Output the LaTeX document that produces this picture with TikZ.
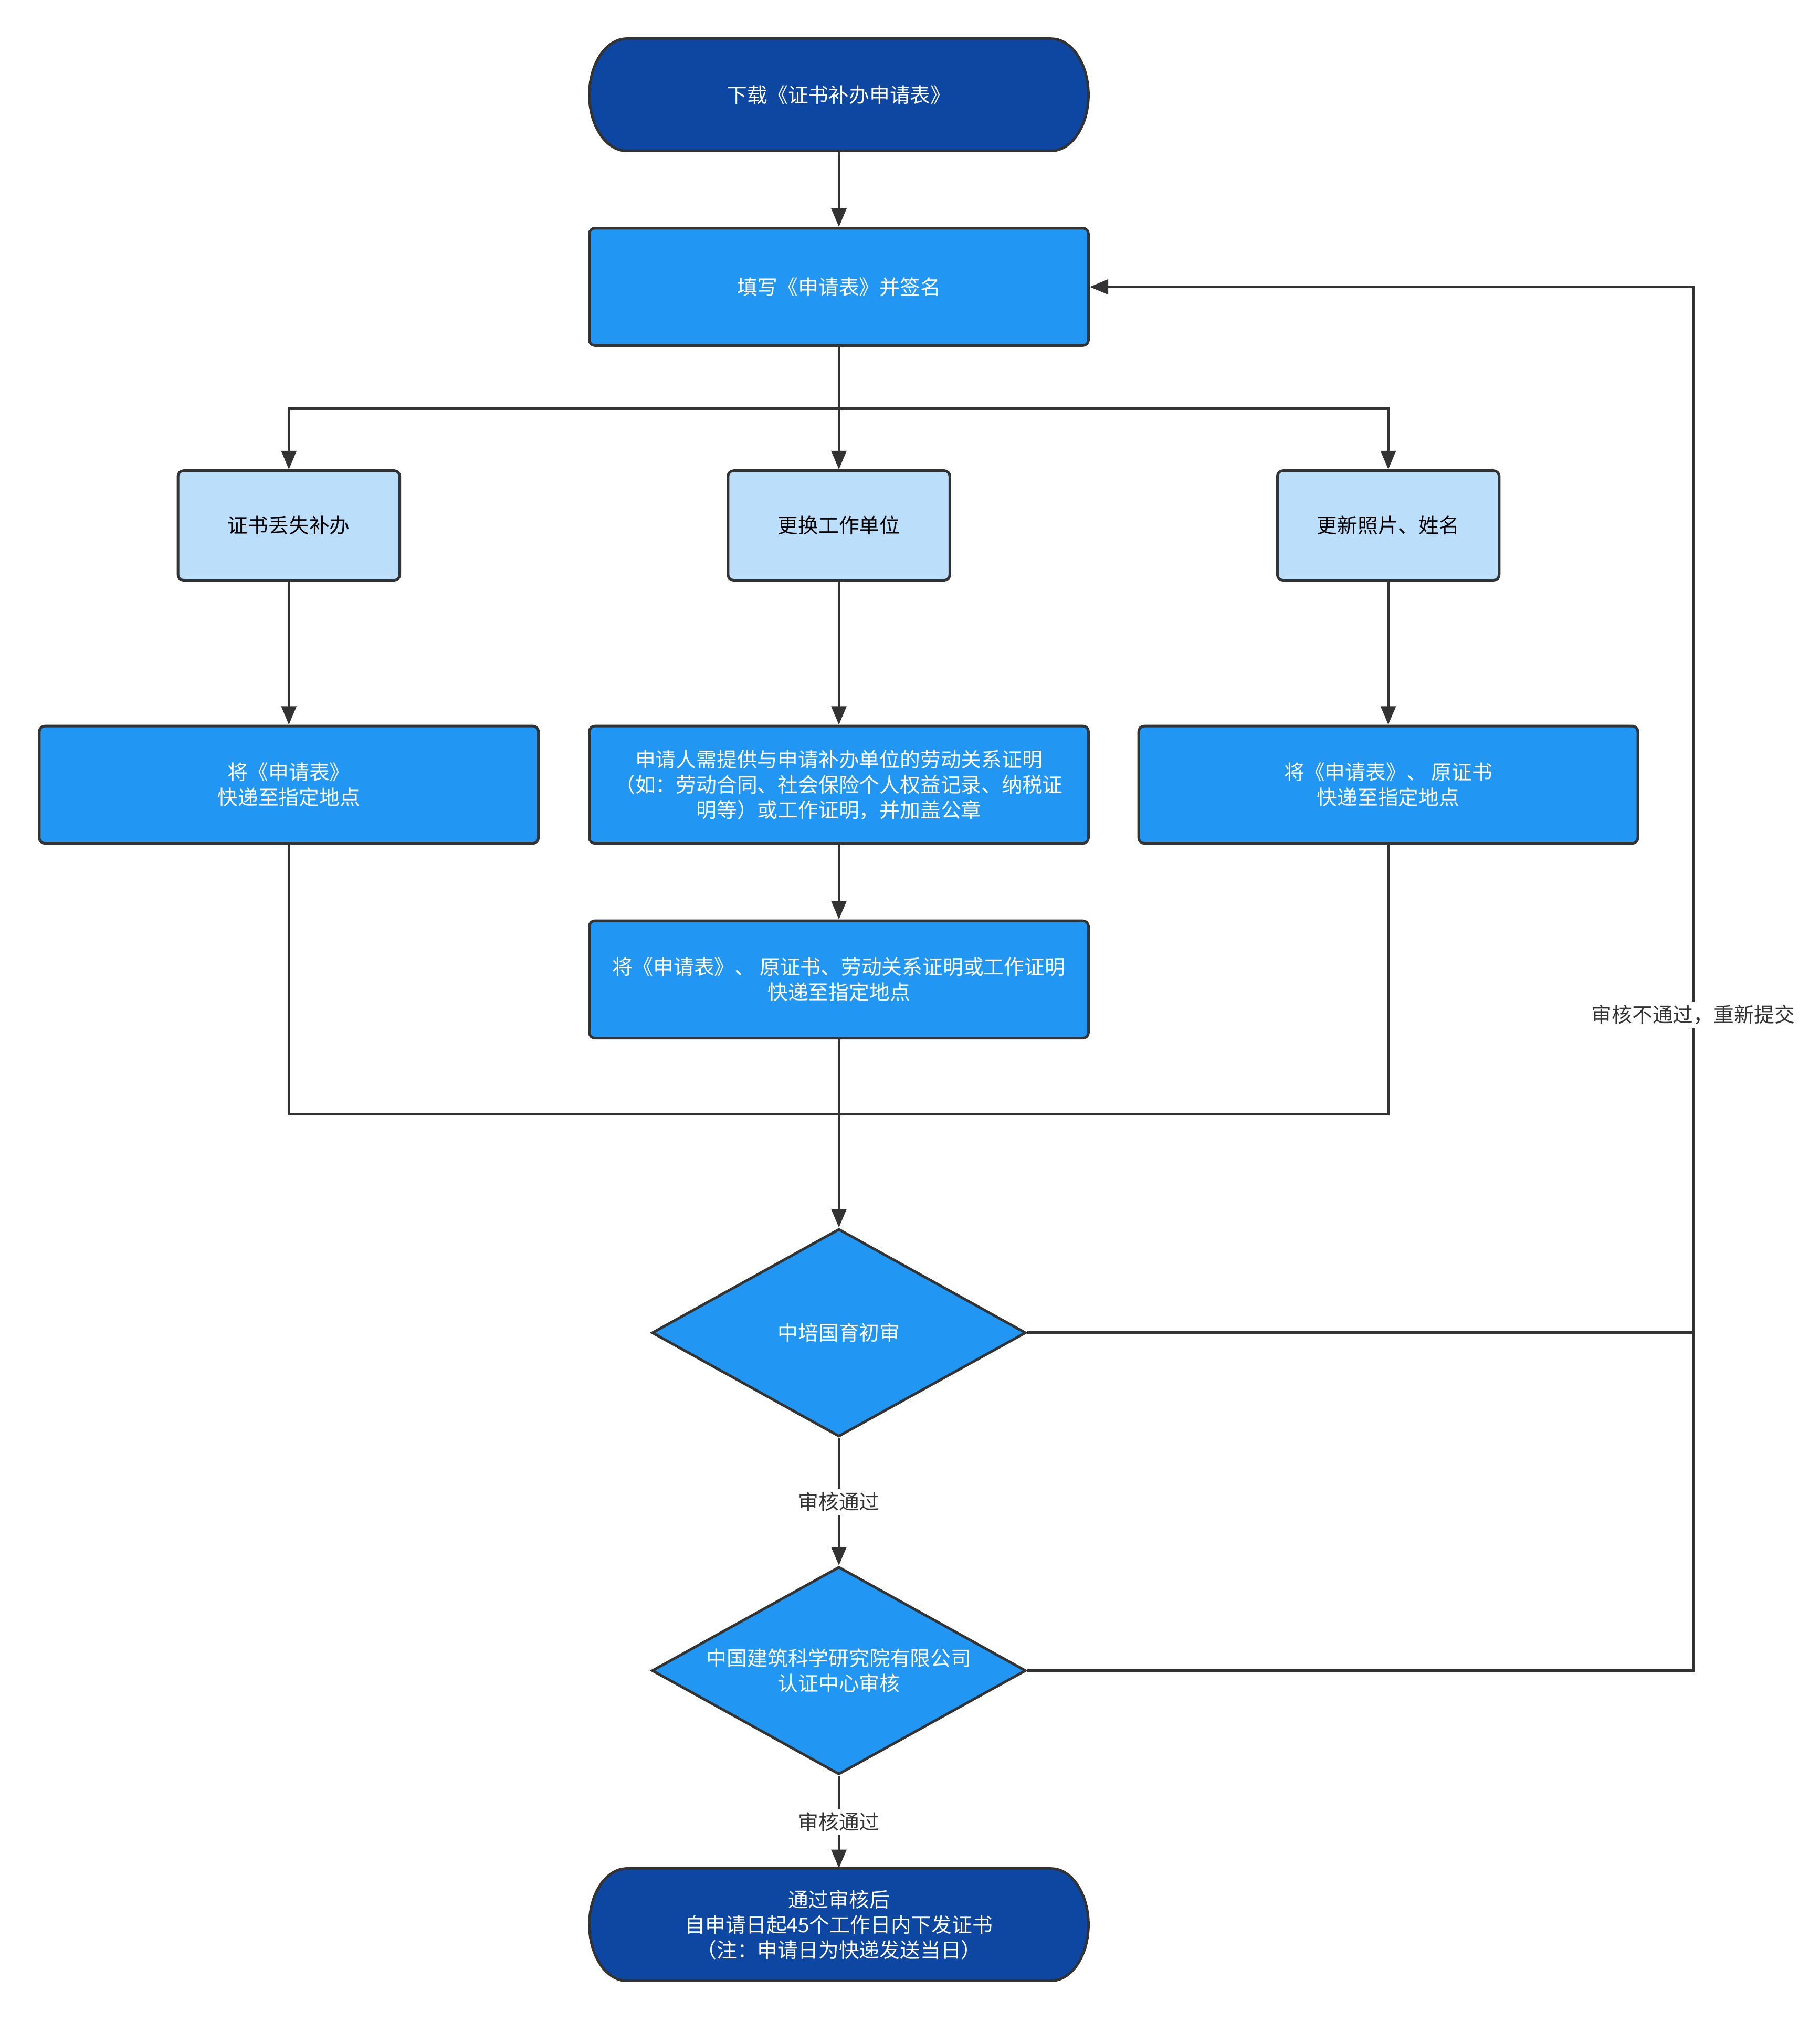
\documentclass[tikz,border=0pt]{standalone}
\usepackage{fontspec}
\setmainfont{Noto Sans CJK SC}
\usetikzlibrary{arrows.meta,shapes.geometric}
\definecolor{dblue}{HTML}{0E47A1}
\definecolor{mblue}{HTML}{2196F3}
\definecolor{lblue}{HTML}{BBDEFB}
\definecolor{edgec}{HTML}{333333}
\begin{document}
\begin{tikzpicture}[x=0.6966pt,y=0.6966pt,
 font=\fontsize{11}{13.6}\selectfont,
 box/.style={draw=edgec, line width=1.4pt, rounded corners=3pt, fill=mblue, text=white, align=center, minimum width=269.6pt, minimum height=63.4pt, inner sep=2pt},
 lbox/.style={box, fill=lblue, text=black, minimum width=119.8pt, minimum height=59.2pt},
 termtext/.style={text=white, align=center, minimum width=269.6pt, minimum height=60.6pt, inner sep=0pt},
 dia/.style={diamond, draw=edgec, line width=1.4pt, fill=mblue, minimum width=202pt, minimum height=112.2pt, inner sep=0pt},
 diatext/.style={text=white, align=center},
 conn/.style={draw=edgec, line width=1.4pt},
 arr/.style={conn, -{Triangle[length=10pt,width=8pt]}},
 lbl/.style={fill=white, text=edgec, inner sep=2pt},
 term/.style={draw=edgec, line width=1.4pt, fill=dblue}
]
\useasboundingbox[fill=white] (0,0) rectangle (1411,-1568);

% terminals
\path[term] (486,-30) -- (815,-30) arc[start angle=90,end angle=-90,x radius=20.2pt,y radius=30.3pt] -- (486,-117) arc[start angle=270,end angle=90,x radius=20.2pt,y radius=30.3pt] -- cycle;
\node[termtext] (start) at (650.5,-73.5) {下载《证书补办申请表》};

\path[term] (486,-1449) -- (815,-1449) arc[start angle=90,end angle=-90,x radius=20.2pt,y radius=30.3pt] -- (486,-1536) arc[start angle=270,end angle=90,x radius=20.2pt,y radius=30.3pt] -- cycle;
\node[termtext] (finish) at (650.5,-1492.5) {通过审核后\\自申请日起45个工作日内下发证书\\（注：申请日为快递发送当日）};

% boxes
\node[box] (fill) at (650.5,-222.5) {填写《申请表》并签名};
\node[lbox] (lb1) at (224,-407.5) {证书丢失补办};
\node[lbox] (lb2) at (650.5,-407.5) {更换工作单位};
\node[lbox] (lb3) at (1076.5,-407.5) {更新照片、姓名};
\node[box] (r1) at (224,-608.5) {将《申请表》\\快递至指定地点};
\node[box] (r2) at (650.5,-608.5) {申请人需提供与申请补办单位的劳动关系证明\\（如：劳动合同、社会保险个人权益记录、纳税证\\明等）或工作证明，并加盖公章};
\node[box] (r3) at (1076.5,-608.5) {将《申请表》、 原证书\\快递至指定地点};
\node[box] (r2b) at (650.5,-759.5) {将《申请表》、 原证书、劳动关系证明或工作证明\\快递至指定地点};

% diamonds
\node[dia] (d1) at (650.5,-1033.5) {};
\node[diatext] at (d1) {中培国育初审};
\node[dia] (d2) at (650.5,-1295.5) {};
\node[diatext] at (d2) {中国建筑科学研究院有限公司\\认证中心审核};

% connectors
\draw[arr] (start) -- (fill);
\coordinate (split) at (650.5,-317);
\draw[conn] (fill.south) -- (split);
\draw[arr] (split) -| (lb1.north);
\draw[arr] (split) -- (lb2.north);
\draw[arr] (split) -| (lb3.north);
\draw[arr] (lb1) -- (r1);
\draw[arr] (lb2) -- (r2);
\draw[arr] (lb3) -- (r3);
\draw[arr] (r2) -- (r2b);
\coordinate (merge) at (650.5,-864);
\draw[conn] (r1.south) |- (merge);
\draw[conn] (r3.south) |- (merge);
\draw[arr] (r2b) -- (d1);
\draw[arr] (d1) -- node[lbl] {审核通过} (d2);
\draw[arr] (d2) -- node[lbl] {审核通过} (finish);
\coordinate (fb1) at (1313,-1033.5);
\coordinate (fb2) at (1313,-1295.5);
\draw[conn] (d1.east) -- (fb1);
\draw[arr] (d2.east) -- (fb2) |- node[lbl, pos=0.237] {审核不通过，重新提交} (fill.east);
\end{tikzpicture}
\end{document}
